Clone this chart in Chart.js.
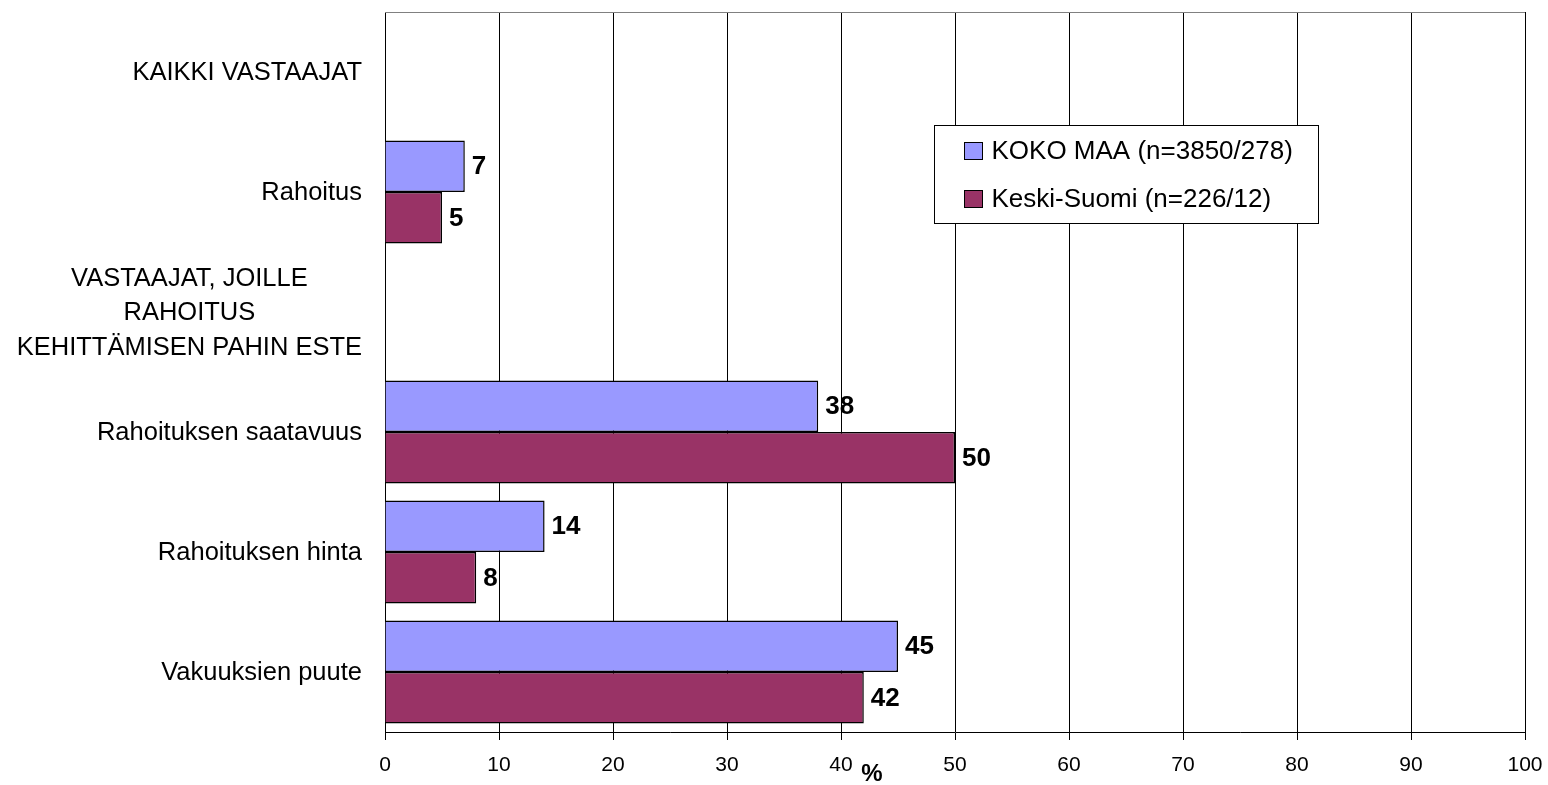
<!DOCTYPE html>
<html>
<head>
<meta charset="utf-8">
<script src="https://cdn.jsdelivr.net/npm/chart.js@4.4.0/dist/chart.umd.min.js"></script>
<style>
  html, body { margin: 0; padding: 0; background: #fff; }
  canvas { display: block; }
</style>
</head>
<body>
<canvas id="rahoitus" width="1548" height="785"></canvas>
<script>
const categories = [
  'KAIKKI VASTAAJAT',
  'Rahoitus',
  ['VASTAAJAT, JOILLE', 'RAHOITUS', 'KEHITTÄMISEN PAHIN ESTE'],
  'Rahoituksen saatavuus',
  'Rahoituksen hinta',
  'Vakuuksien puute'
];
const seriesNames = ['KOKO MAA (n=3850/278)', 'Keski-Suomi (n=226/12)'];
const kokoMaa = [null, 7, null, 38, 14, 45];
const keskiSuomi = [null, 5, null, 50, 8, 42];
const seriesColors = ['#9999FF', '#993366'];
const axisTitle = '%';

const FONT = "'Liberation Sans', Arial, sans-serif";

// labels, legend box and the "%" title are drawn by hand
const decorations = {
  id: 'decorations',
  beforeDatasetsDraw(chart) {
    const ctx = chart.ctx;
    const area = chart.chartArea;
    ctx.save();
    ctx.strokeStyle = '#808080';
    ctx.lineWidth = 1;
    ctx.beginPath();
    ctx.moveTo(area.left, Math.round(area.top) + 0.5);
    ctx.lineTo(area.right, Math.round(area.top) + 0.5);
    ctx.stroke();
    ctx.restore();
  },
  afterDatasetsDraw(chart) {
    const ctx = chart.ctx;
    const area = chart.chartArea;
    const yScale = chart.scales.y;
    const xScale = chart.scales.x;
    ctx.save();

    // value labels
    ctx.font = 'bold 26px ' + FONT;
    ctx.fillStyle = '#000';
    ctx.textAlign = 'left';
    ctx.textBaseline = 'middle';
    chart.data.datasets.forEach((ds, i) => {
      chart.getDatasetMeta(i).data.forEach((bar, j) => {
        if (ds.data[j] == null) return;
        ctx.fillText(String(ds.data[j]), bar.x + 7, bar.y + 1);
      });
    });

    // category labels, lines centred within each label block
    ctx.font = '25.5px ' + FONT;
    ctx.textAlign = 'center';
    const lineH = 34.5;
    chart.data.labels.forEach((lab, i) => {
      const lines = Array.isArray(lab) ? lab : [lab];
      const maxW = Math.max(...lines.map(l => ctx.measureText(l).width));
      const cx = area.left - 23 - maxW / 2;
      const cy = yScale.getPixelForTick(i) + 1;
      lines.forEach((l, k) => {
        ctx.fillText(l, cx, cy + (k - (lines.length - 1) / 2) * lineH);
      });
    });

    // axis title
    ctx.font = 'bold 24px ' + FONT;
    ctx.fillText(axisTitle, xScale.left + 487, area.bottom + 42);

    // legend box
    const bx = 934.5, by = 125.5, bw = 384, bh = 98;
    ctx.fillStyle = '#fff';
    ctx.fillRect(bx, by, bw, bh);
    ctx.strokeStyle = '#000';
    ctx.lineWidth = 1;
    ctx.strokeRect(bx, by, bw, bh);
    ctx.font = '26px ' + FONT;
    ctx.textAlign = 'left';
    chart.data.datasets.forEach((ds, i) => {
      const cy = by + 25 + i * 48;
      ctx.fillStyle = ds.backgroundColor;
      ctx.fillRect(bx + 30, cy - 8, 18, 17);
      ctx.strokeRect(bx + 30, cy - 8, 18, 17);
      ctx.fillStyle = '#000';
      ctx.fillText(ds.label, bx + 57, cy + 1);
    });

    ctx.restore();
  }
};

const ctx = document.getElementById('rahoitus').getContext('2d');
new Chart(ctx, {
  type: 'bar',
  data: {
    labels: categories,
    datasets: [
      {
        label: seriesNames[0],
        data: kokoMaa,
        backgroundColor: seriesColors[0],
        borderColor: '#000',
        borderWidth: 1.5
      },
      {
        label: seriesNames[1],
        data: keskiSuomi,
        backgroundColor: seriesColors[1],
        borderColor: '#000',
        borderWidth: 1.5
      }
    ]
  },
  options: {
    indexAxis: 'y',
    responsive: false,
    animation: false,
    categoryPercentage: 0.86,
    barPercentage: 1,
    layout: { padding: { top: 12, right: 23, left: 0, bottom: 0 } },
    plugins: {
      legend: { display: false },
      tooltip: { enabled: false }
    },
    scales: {
      x: {
        min: 0,
        max: 100,
        ticks: {
          stepSize: 10,
          color: '#000',
          padding: 13,
          font: { family: FONT, size: 21 }
        },
        grid: { color: '#000', lineWidth: 1, tickLength: 8 },
        border: { color: '#000', width: 1 },
        afterFit(scale) {
          scale.height = 53;
          scale.paddingLeft = 0;
          scale.paddingRight = 0;
        }
      },
      y: {
        ticks: { display: false },
        grid: { display: false, drawTicks: false },
        border: { color: '#000', width: 1 },
        afterFit(scale) { scale.width = 385; }
      }
    }
  },
  plugins: [decorations]
});
</script>
</body>
</html>
